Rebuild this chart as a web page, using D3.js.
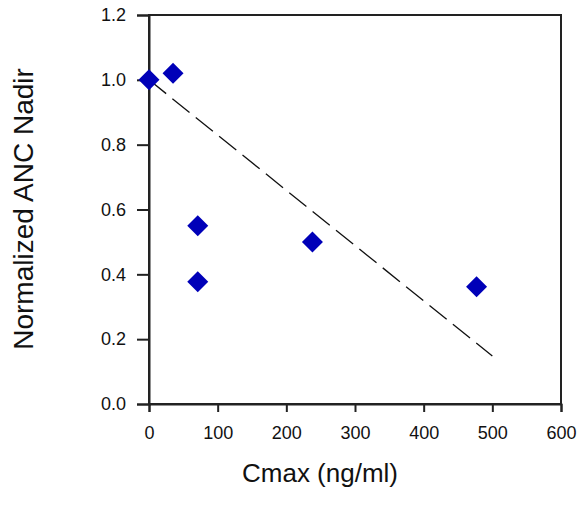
<!DOCTYPE html>
<html>
<head>
<meta charset="utf-8">
<script src="https://cdn.jsdelivr.net/npm/d3@7"></script>
<style>
  body { margin: 0; background: #fff; }
  svg { display: block; font-family: Arial, "Liberation Sans", sans-serif; }
</style>
</head>
<body>
<svg id="chart" width="581" height="505"></svg>
<script>
const cmax = [0, 35, 71, 71, 238, 477];
const ancNadir = [1.0, 1.02, 0.55, 0.377, 0.5, 0.362];
const fitX = [0, 500];
const fitY = [1.0, 0.148];
const xTicks = [0, 100, 200, 300, 400, 500, 600];
const yTicks = [0.0, 0.2, 0.4, 0.6, 0.8, 1.0, 1.2];
const xTitle = "Cmax (ng/ml)";
const yTitle = "Normalized ANC Nadir";

const W = 581, H = 505;
const m = { left: 149, right: 20, top: 15, bottom: 101 };
const svg = d3.select("#chart");

const x = d3.scaleLinear().domain([0, 600]).range([m.left, W - m.right]);
const y = d3.scaleLinear().domain([0, 1.2]).range([H - m.bottom, m.top]);

// frame
svg.append("rect")
  .attr("x", x(0)).attr("y", y(1.2))
  .attr("width", x(600) - x(0)).attr("height", y(0) - y(1.2))
  .attr("fill", "none").attr("stroke", "#222").attr("stroke-width", 2);

// axes
const xAxis = svg.append("g").attr("transform", `translate(0,${y(0)})`)
  .call(d3.axisBottom(x).tickValues(xTicks).tickFormat(d3.format("d")).tickSize(8).tickPadding(14));
const yAxis = svg.append("g").attr("transform", `translate(${x(0)},0)`)
  .call(d3.axisLeft(y).tickValues(yTicks).tickFormat(d3.format(".1f")).tickSize(12).tickPadding(11));
[xAxis, yAxis].forEach(a => {
  a.select(".domain").attr("stroke", "#222").attr("stroke-width", 2);
  a.selectAll(".tick line").attr("stroke", "#222").attr("stroke-width", 2);
  a.selectAll(".tick text").attr("fill", "#111").style("font-size", "18px")
    .style("font-family", "Arial, 'Liberation Sans', sans-serif");
});

// regression line
svg.append("line")
  .attr("x1", x(fitX[0])).attr("y1", y(fitY[0]))
  .attr("x2", x(fitX[1])).attr("y2", y(fitY[1]))
  .attr("stroke", "#111").attr("stroke-width", 1.3)
  .attr("stroke-dasharray", "22,8");

// diamonds
const r = 10.5;
svg.append("g").selectAll("path")
  .data(cmax.map((c, i) => [c, ancNadir[i]]))
  .join("path")
  .attr("d", d => {
    const cx = x(d[0]), cy = y(d[1]);
    return `M${cx - r},${cy}L${cx},${cy - r}L${cx + r},${cy}L${cx},${cy + r}Z`;
  })
  .attr("fill", "#0000b8");

// titles
svg.append("text")
  .attr("x", (x(0) + x(600)) / 2 - 35).attr("y", 482)
  .attr("text-anchor", "middle")
  .style("font-size", "26px").attr("fill", "#111")
  .text(xTitle);

svg.append("text")
  .attr("transform", `translate(33,209) rotate(-90)`)
  .attr("text-anchor", "middle")
  .style("font-size", "28px").attr("fill", "#111")
  .text(yTitle);
</script>
</body>
</html>
